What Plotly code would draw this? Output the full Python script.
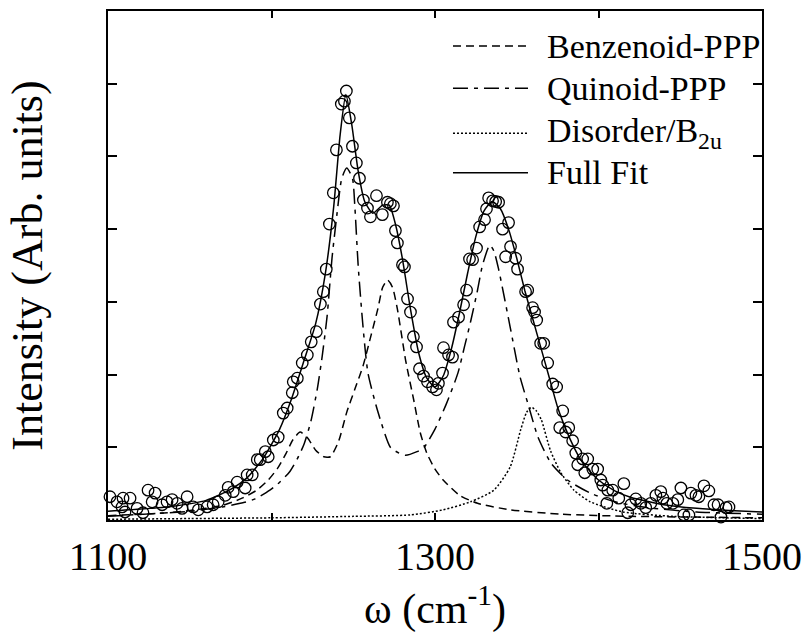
import plotly.graph_objects as go

# ---------------- data ----------------
data_w = [1101.2, 1105.5, 1108.6, 1109.2, 1110.4, 1113.5, 1117.8, 1121.4, 1124.5, 1127.0,
          1128.8, 1133.1, 1136.1, 1139.2, 1142.3, 1145.3, 1148.4, 1152.1, 1155.2, 1156.4,
          1160.6, 1164.3, 1167.4, 1171.7, 1173.5, 1176.6, 1179.0, 1183.9, 1185.1, 1188.2,
          1191.3, 1193.1, 1196.2, 1198.0, 1201.1, 1204.1, 1207.2, 1209.6, 1212.7, 1213.3,
          1215.8, 1218.8, 1221.9, 1224.3, 1227.4, 1229.9, 1231.7, 1233.5, 1235.4, 1237.8,
          1239.7, 1242.7, 1244.6, 1245.8, 1247.6, 1249.5, 1251.9, 1253.8, 1256.2, 1258.7,
          1260.5, 1264.2, 1267.8, 1270.9, 1272.7, 1274.6, 1275.8, 1277.0, 1280.1, 1281.3,
          1283.2, 1285.0, 1286.8, 1288.7, 1290.5, 1293.0, 1295.4, 1298.5, 1300.9, 1302.1,
          1304.6, 1305.2, 1308.3, 1310.7, 1311.3, 1314.4, 1317.5, 1319.3, 1321.1, 1323.0,
          1325.4, 1327.3, 1330.3, 1331.5, 1332.8, 1335.2, 1337.1, 1338.9, 1341.3, 1343.2,
          1345.0, 1346.2, 1349.3, 1350.5, 1355.4, 1356.7, 1359.7, 1360.9, 1362.2, 1364.6,
          1366.5, 1368.9, 1372.0, 1374.4, 1376.3, 1378.1, 1379.9, 1381.8, 1384.2, 1386.1,
          1387.3, 1390.3, 1391.6, 1393.4, 1396.5, 1399.5, 1401.4, 1402.6, 1405.1, 1405.7,
          1408.7, 1412.4, 1415.5, 1417.9, 1419.8, 1422.8, 1425.9, 1428.9, 1432.0, 1435.1,
          1438.1, 1439.4, 1441.8, 1445.5, 1448.5, 1450.4, 1452.2, 1455.3, 1456.5, 1459.6,
          1461.4, 1464.5, 1467.5, 1470.6, 1473.1, 1474.9, 1478.0, 1479.8]
data_y = [0.32, 0.25, 0.18, 0.30, 0.11, 0.30, 0.16, 0.10, 0.41, 0.25,
          0.37, 0.21, 0.25, 0.28, 0.23, 0.16, 0.32, 0.18, 0.14, -0.02,
          0.18, 0.21, 0.25, 0.34, 0.45, 0.39, 0.52, 0.44, 0.62, 0.62,
          0.83, 0.83, 0.94, 0.87, 1.10, 1.14, 1.47, 1.54, 1.75, 1.90,
          1.95, 2.16, 2.27, 2.45, 2.59, 2.97, 3.14, 3.45, 4.07, 4.50,
          5.09, 5.72, 5.76, 5.90, 5.53, 5.14, 4.91, 4.70, 4.40, 4.29,
          4.17, 4.46, 4.20, 4.37, 4.35, 4.32, 3.98, 3.81, 3.51, 3.48,
          3.04, 2.86, 2.52, 2.38, 2.08, 1.98, 1.90, 1.83, 1.79, 1.88,
          2.02, 2.37, 2.27, 2.24, 2.72, 2.79, 2.96, 3.16, 3.59, 3.58,
          3.74, 4.03, 4.13, 4.28, 4.43, 4.39, 4.38, 4.37, 4.00, 3.62,
          4.09, 3.76, 3.60, 3.45, 3.14, 3.16, 2.92, 2.86, 2.75, 2.43,
          2.43, 2.16, 1.87, 1.83, 1.27, 1.50, 1.21, 1.27, 1.09, 0.92,
          0.76, 0.84, 0.65, 0.84, 0.70, 0.70, 0.55, 0.48, 0.23, 0.41,
          0.41, 0.30, 0.50, 0.10, 0.21, 0.29, 0.23, 0.17, 0.23, 0.34,
          0.39, 0.30, 0.23, 0.23, 0.28, 0.44, 0.07, 0.07, 0.37, 0.34,
          0.32, 0.47, 0.40, 0.21, 0.21, 0.04, 0.17, 0.18]

benz_w = [1100, 1130, 1150, 1170, 1182, 1191, 1198, 1204, 1209, 1213, 1217.5, 1222, 1227,
          1232, 1236, 1241, 1246, 1251, 1256, 1261, 1265, 1268, 1271, 1274, 1277, 1282,
          1287, 1291, 1295, 1300, 1305, 1315, 1326, 1346, 1377, 1420, 1460, 1500]
benz_y = [0.06, 0.09, 0.13, 0.20, 0.30, 0.41, 0.55, 0.72, 0.92, 1.10, 1.21, 1.13, 0.96,
          0.87, 0.87, 1.08, 1.48, 1.80, 2.12, 2.55, 2.90, 3.20, 3.30, 3.20, 2.90, 2.20,
          1.65, 1.20, 0.92, 0.70, 0.55, 0.34, 0.23, 0.14, 0.08, 0.05, 0.04, 0.03]

quin_w = [1100, 1130, 1150, 1170, 1183, 1190, 1199, 1205, 1211, 1216, 1220, 1224, 1228,
          1231, 1234, 1237, 1240, 1243, 1246, 1249.5, 1251, 1253, 1256, 1259, 1264.8,
          1272.7, 1278, 1282, 1289, 1293, 1300, 1307, 1314, 1318, 1322, 1326, 1329,
          1333.5, 1336, 1339, 1346, 1352, 1356.7, 1363, 1371, 1381, 1395, 1410, 1430,
          1460, 1500]
quin_y = [0.05, 0.09, 0.12, 0.18, 0.24, 0.29, 0.41, 0.52, 0.66, 0.85, 1.05, 1.35, 1.80,
          2.25, 2.80, 3.60, 4.20, 4.70, 4.84, 4.70, 4.30, 3.50, 2.65, 2.02, 1.51,
          1.00, 0.92, 0.89, 0.94, 0.99, 1.25, 1.60, 2.02, 2.38, 2.75, 3.16, 3.50,
          3.78, 3.70, 3.44, 2.65, 1.97, 1.61, 1.14, 0.78, 0.55, 0.37, 0.25, 0.17,
          0.11, 0.08]

dis_w = [1100, 1150, 1200, 1250, 1285, 1305, 1321.7, 1336, 1346, 1352.4, 1356, 1359,
         1362, 1365, 1370.7, 1377, 1385, 1395, 1415, 1446, 1500]
dis_y = [0.01, 0.02, 0.03, 0.05, 0.07, 0.14, 0.25, 0.41, 0.73, 1.24, 1.48, 1.55,
         1.50, 1.38, 0.95, 0.65, 0.41, 0.25, 0.11, 0.05, 0.02]

fit_w = [1100, 1120, 1140, 1160, 1175, 1185, 1195, 1205, 1212, 1220, 1227, 1233, 1238,
         1242, 1245.5, 1249, 1253, 1257, 1262, 1268, 1272, 1276, 1280, 1285, 1290, 1295,
         1300, 1305, 1310, 1315, 1320, 1325, 1330, 1335, 1340, 1345, 1350, 1355, 1360,
         1365, 1370, 1375, 1380, 1385, 1390, 1400, 1410, 1420, 1440, 1460, 1480, 1500]
fit_y = [0.12, 0.15, 0.19, 0.27, 0.42, 0.58, 0.85, 1.25, 1.65, 2.20, 2.70, 3.40, 4.30,
         5.30, 5.85, 5.45, 4.80, 4.38, 4.22, 4.33, 4.33, 4.05, 3.60, 2.90, 2.30, 1.95,
         1.83, 1.98, 2.35, 2.85, 3.40, 3.90, 4.25, 4.38, 4.28, 4.00, 3.60, 3.15, 2.75,
         2.35, 1.95, 1.55, 1.25, 1.00, 0.80, 0.55, 0.40, 0.31, 0.21, 0.16, 0.13, 0.11]

x_tickvals = [1100, 1300, 1500]
x_ticktext = ["1100", "1300", "1500"]
y_tickvals = [0, 1, 2, 3, 4, 5, 6, 7]

legend_names = ["Benzenoid-PPP", "Quinoid-PPP", "Disorder/B<sub>2u</sub>", "Full Fit"]
legend_dash = ["8px,5px", "15px,6px,4px,6px", "2px,2px", "solid"]

SERIF = "Liberation Serif, Times New Roman, serif"

fig = go.Figure()

fig.add_trace(go.Scatter(x=benz_w, y=benz_y, mode="lines", showlegend=False,
                         line=dict(color="black", width=1.5, dash=legend_dash[0],
                                   shape="spline", smoothing=0.6)))
fig.add_trace(go.Scatter(x=quin_w, y=quin_y, mode="lines", showlegend=False,
                         line=dict(color="black", width=1.5, dash=legend_dash[1],
                                   shape="spline", smoothing=0.6)))
fig.add_trace(go.Scatter(x=dis_w, y=dis_y, mode="lines", showlegend=False,
                         line=dict(color="black", width=1.5, dash=legend_dash[2],
                                   shape="spline", smoothing=0.6)))
fig.add_trace(go.Scatter(x=fit_w, y=fit_y, mode="lines", showlegend=False,
                         line=dict(color="black", width=1.5, dash=legend_dash[3],
                                   shape="spline", smoothing=0.6)))
fig.add_trace(go.Scatter(x=data_w, y=data_y, mode="markers", showlegend=False,
                         cliponaxis=False,
                         marker=dict(symbol="circle-open", size=11.5, color="black",
                                     line=dict(width=1.3, color="black"))))

# manual legend (top right, inside the frame)
leg_rows = [0.931, 0.848, 0.760, 0.682]
for name, dash, yy in zip(legend_names, legend_dash, leg_rows):
    fig.add_shape(type="line", xref="paper", yref="paper",
                  x0=0.5275, x1=0.6422, y0=yy, y1=yy,
                  line=dict(color="black", width=1.5, dash=dash))
    fig.add_annotation(xref="paper", yref="paper", x=0.668, y=yy,
                       text=name, showarrow=False, xanchor="left", yanchor="middle",
                       font=dict(family=SERIF, size=34, color="black"))

fig.update_layout(
    width=804, height=635,
    margin=dict(l=108, r=42, t=11, b=115, autoexpand=False),
    paper_bgcolor="white", plot_bgcolor="white",
    font=dict(family=SERIF, color="black"),
    showlegend=False,
)
fig.update_xaxes(
    range=[1100, 1500], tickvals=x_tickvals, ticktext=x_ticktext,
    ticks="inside", ticklen=7, tickwidth=1.5, tickcolor="black",
    minor=dict(dtick=100, tick0=1100, ticks="inside", ticklen=7, tickwidth=1.5,
               tickcolor="black", showgrid=False),
    showline=True, linewidth=2, linecolor="black", mirror="allticks",
    showgrid=False, zeroline=False, automargin=False,
    tickfont=dict(family=SERIF, size=40, color="black"),
    title=dict(text="ω (cm<sup>-1</sup>)", font=dict(family=SERIF, size=42), standoff=6),
)
fig.update_yaxes(
    range=[0, 7], tickvals=y_tickvals, showticklabels=False,
    ticks="inside", ticklen=9, tickwidth=1.5, tickcolor="black",
    showline=True, linewidth=2, linecolor="black", mirror="allticks",
    showgrid=False, zeroline=False, automargin=False,
    title=dict(text="Intensity (Arb. units)", font=dict(family=SERIF, size=44), standoff=50),
)

fig.write_html("out.html")
